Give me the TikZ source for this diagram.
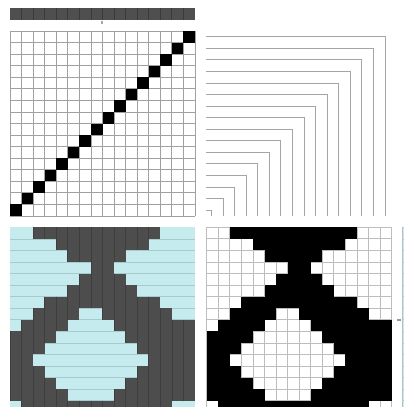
\documentclass[tikz,border=0pt]{standalone}
\definecolor{stripgray}{HTML}{4F4F4F}
\definecolor{sepgray}{HTML}{3A3A3A}
\definecolor{dgray}{HTML}{4D4D4D}
\definecolor{vlinegray}{HTML}{3E3E3E}
\definecolor{lblue}{HTML}{C5EBEE}
\definecolor{bline}{HTML}{A6CBCF}
\definecolor{gridA}{HTML}{A0A0A0}
\definecolor{gridB}{HTML}{BDBDBD}
\definecolor{lgray}{HTML}{A5A5A5}
\tikzset{
  gridlineA/.style={draw=gridA, line width=0.8},
  gridlineB/.style={draw=gridB, line width=0.8},
  ellline/.style={draw=lgray, line width=0.9},
  weftline/.style={draw=bline, line width=0.7},
  warpline/.style={draw=vlinegray, line width=0.7},
}
\begin{document}
\begin{tikzpicture}[x=1pt,y=-1pt]
\useasboundingbox[fill=white] (0,0) rectangle (404,407);
\pgfmathsetmacro\cellsz{185/16}
% top strip
\fill[stripgray] (10,8.3) rectangle (195,20);
\foreach \i in {1,...,15} \draw[sepgray, line width=0.8] ({10+\i*\cellsz},8.3) -- ++(0,11.7);
\fill[gray!70] (101,21.4) rectangle (103.2,24);
% top-left grid with diagonal
\foreach \i in {0,...,16} {
  \draw[gridlineA] ({10+\i*\cellsz},31) -- ({10+\i*\cellsz},216);
  \draw[gridlineA] (10,{31+\i*\cellsz}) -- (195,{31+\i*\cellsz});
}
\foreach \i in {0,...,15}
  \fill ({10+\i*\cellsz},{31+(15-\i)*\cellsz}) rectangle ++(\cellsz,\cellsz);
% top-right nested L shapes
\foreach \k in {0,...,15}
  \draw[ellline] (206,{36.7+\k*\cellsz}) -| ({385-\k*\cellsz},216);
% bottom panels
\begin{scope}
\clip (0,0) rectangle (404,407);
% bottom-left weave
\fill[lblue] (10,227.3) rectangle (195,412.3);
\foreach \i in {1,...,15}
  \draw[weftline] (10,{227.3+\i*\cellsz}) -- (195,{227.3+\i*\cellsz});
\foreach \r/\a/\b in {0/2/12,1/4/11,2/5/9,3/7/8,4/6/9,5/5/10,6/3/12,7/2/5,7/8/13,
  8/1/4,8/9/15,9/0/3,9/10/15,10/0/2,10/11/15,11/0/1,11/12/15,12/0/2,12/11/15,
  13/0/3,13/10/15,14/0/4,14/9/15,15/1/13} {
  \fill[dgray] ({10+\a*\cellsz},{227.3+\r*\cellsz}) rectangle ({10+(\b+1)*\cellsz},{227.3+(\r+1)*\cellsz});
  \foreach \x in {\a,...,\b}
    \draw[warpline] ({10+\x*\cellsz},{227.3+\r*\cellsz}) -- ++(0,\cellsz);
}
% bottom-right black/white grid
\foreach \i in {0,...,16} {
  \draw[gridlineB] ({206.7+\i*\cellsz},227.3) -- ({206.7+\i*\cellsz},412.3);
  \draw[gridlineB] (206.7,{227.3+\i*\cellsz}) -- (391.7,{227.3+\i*\cellsz});
}
\foreach \r/\a/\b in {0/2/12,1/4/11,2/5/9,3/7/8,4/6/9,5/5/10,6/3/12,7/2/5,7/8/13,
  8/1/4,8/9/15,9/0/3,9/10/15,10/0/2,10/11/15,11/0/1,11/12/15,12/0/2,12/11/15,
  13/0/3,13/10/15,14/0/4,14/9/15,15/1/13}
  \fill[black] ({206.7+\a*\cellsz},{227.3+\r*\cellsz}) rectangle ({206.7+(\b+1)*\cellsz},{227.3+(\r+1)*\cellsz});
% right edge strip
\fill[lblue] (402,227.3) rectangle (405,412);
\draw[gridB, line width=0.8] (402,227.3) -- (402,412);
\foreach \i in {0,...,16}
  \draw[weftline] (402,{227.3+\i*\cellsz}) -- (405,{227.3+\i*\cellsz});
\fill[gray!80] (397,318.6) rectangle (401.4,320.6);
\end{scope}
\end{tikzpicture}
\end{document}
